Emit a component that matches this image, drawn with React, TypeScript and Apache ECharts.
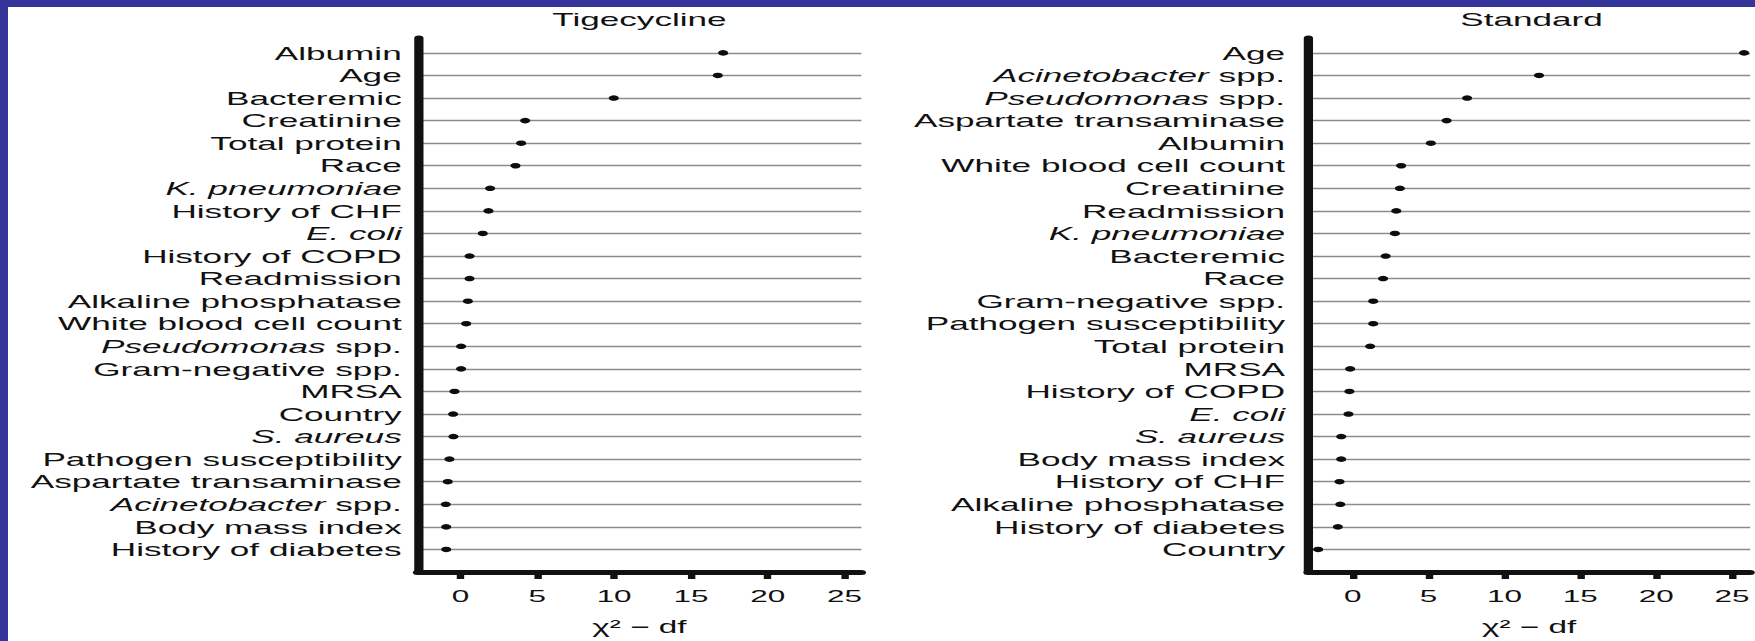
import { useEffect, useRef } from "react";
import * as echarts from "echarts";

// Tigecycline arm: factors listed top to bottom with their chi-square minus df values
const tigecyclineFactors = [
  "Albumin",
  "Age",
  "Bacteremic",
  "Creatinine",
  "Total protein",
  "Race",
  "K. pneumoniae",
  "History of CHF",
  "E. coli",
  "History of COPD",
  "Readmission",
  "Alkaline phosphatase",
  "White blood cell count",
  "Pseudomonas spp.",
  "Gram-negative spp.",
  "MRSA",
  "Country",
  "S. aureus",
  "Pathogen susceptibility",
  "Aspartate transaminase",
  "Acinetobacter spp.",
  "Body mass index",
  "History of diabetes",
];
const tigecyclineValues = [
  17.1, 16.75, 9.98, 4.21, 3.95, 3.58, 1.93, 1.82, 1.45, 0.59, 0.59, 0.48, 0.37,
  0.04, 0.04, -0.39, -0.48, -0.46, -0.72, -0.83, -0.96, -0.93, -0.93,
];

// Standard-therapy arm
const standardFactors = [
  "Age",
  "Acinetobacter spp.",
  "Pseudomonas spp.",
  "Aspartate transaminase",
  "Albumin",
  "White blood cell count",
  "Creatinine",
  "Readmission",
  "K. pneumoniae",
  "Bacteremic",
  "Race",
  "Gram-negative spp.",
  "Pathogen susceptibility",
  "Total protein",
  "MRSA",
  "History of COPD",
  "E. coli",
  "S. aureus",
  "Body mass index",
  "History of CHF",
  "Alkaline phosphatase",
  "History of diabetes",
  "Country",
];
const standardValues = [
  25.8, 12.28, 7.54, 6.19, 5.15, 3.19, 3.11, 2.87, 2.78, 2.17, 2.0, 1.35, 1.35,
  1.15, -0.17, -0.22, -0.28, -0.76, -0.76, -0.87, -0.82, -0.98, -2.28,
];

const xTickValues = [0, 5, 10, 15, 20, 25];
const panelTitles = ["Tigecycline", "Standard"];
const xAxisTitle = "χ² − df";

// Organism names set in italics
const italicTerms = ["K. pneumoniae", "E. coli", "S. aureus", "Pseudomonas", "Acinetobacter"];

const PAGE_W = 1755;
const PAGE_H = 641;
const CHART_W = 949; // drawing width before the horizontal stretch
const STRETCH = PAGE_W / CHART_W;

const FONT = "'Liberation Sans', Arial, Helvetica, sans-serif";
const INK = "#111111";
const FRAME = "#35349a";

const GRID_TOP = 38;
const GRID_BOTTOM = 66.5;

function richLabel(text: string): string {
  for (const t of italicTerms) {
    if (text.startsWith(t)) return `{i|${t}}${text.slice(t.length)}`;
  }
  return text;
}

type Panel = {
  title: string;
  factors: string[];
  values: number[];
  left: number; // px on page
  rightEdge: number; // px on page
  xMin: number;
  xMax: number;
  labelGap: number; // px on page
};

const panels: Panel[] = [
  {
    title: panelTitles[0],
    factors: tigecyclineFactors,
    values: tigecyclineValues,
    left: 417.5,
    rightEdge: 861.4,
    xMin: -2.8,
    xMax: 26.1,
    labelGap: 15.8,
  },
  {
    title: panelTitles[1],
    factors: standardFactors,
    values: standardValues,
    left: 1308,
    rightEdge: 1755,
    xMin: -2.95,
    xMax: 26.2,
    labelGap: 23,
  },
];

function buildOption(): echarts.EChartsCoreOption {
  const grids: any[] = [];
  const xAxes: any[] = [];
  const yAxes: any[] = [];
  const series: any[] = [];
  const titles: any[] = [];

  panels.forEach((p, idx) => {
    const left = p.left / STRETCH;
    const right = CHART_W - p.rightEdge / STRETCH;
    const rows = p.factors.map((_, i) => i);

    grids.push({ left, right: Math.max(0, right), top: GRID_TOP, bottom: GRID_BOTTOM });

    titles.push({
      text: p.title,
      left: (p.left + p.rightEdge) / 2 / STRETCH,
      top: 10,
      padding: 0,
      textAlign: "center",
      textStyle: { fontSize: 19, fontWeight: "normal", color: INK, fontFamily: FONT },
    });

    xAxes.push({
      type: "value",
      gridIndex: idx,
      min: p.xMin,
      max: p.xMax,
      z: 5,
      axisLine: { show: true, onZero: false, lineStyle: { color: "#111", width: 5 } },
      axisTick: {
        show: true,
        customValues: xTickValues,
        length: 7,
        lineStyle: { color: "#111", width: 4 },
      },
      axisLabel: {
        customValues: xTickValues,
        fontSize: 17,
        color: INK,
        fontFamily: FONT,
        margin: 15,
      },
      splitLine: { show: false },
      name: xAxisTitle,
      nameLocation: "middle",
      nameGap: 46,
      nameTextStyle: { fontSize: 18, color: INK, fontFamily: FONT },
    });

    yAxes.push({
      type: "value",
      gridIndex: idx,
      inverse: true,
      min: -0.66,
      max: 23,
      z: 5,
      axisLine: { show: true, onZero: false, lineStyle: { color: "#111", width: 5 } },
      axisTick: { show: false },
      splitLine: { show: false },
      axisLabel: {
        customValues: rows,
        formatter: (v: number) => richLabel(p.factors[Math.round(v)] ?? ""),
        fontSize: 19,
        color: INK,
        fontFamily: FONT,
        margin: p.labelGap / STRETCH,
        rich: {
          i: { fontStyle: "italic", fontSize: 19, color: INK, fontFamily: FONT },
        },
      },
    });

    // horizontal guide line for every factor row, kept beneath the dots
    series.push({
      type: "scatter",
      xAxisIndex: idx,
      yAxisIndex: idx,
      data: [],
      silent: true,
      z: 1,
      markLine: {
        silent: true,
        z: 1,
        symbol: ["none", "none"],
        label: { show: false },
        lineStyle: { color: "#8c8c8c", width: 1.3, type: "solid" },
        data: rows.map((i) => ({ yAxis: i })),
      },
    });

    series.push({
      type: "scatter",
      xAxisIndex: idx,
      yAxisIndex: idx,
      z: 10,
      symbol: "circle",
      symbolSize: 5.5,
      itemStyle: { color: "#0d0d0d", opacity: 1, borderWidth: 0 },
      data: p.values.map((v, i) => [v, i]),
    });
  });

  return {
    animation: false,
    backgroundColor: "#ffffff",
    title: titles,
    grid: grids,
    xAxis: xAxes,
    yAxis: yAxes,
    series,
    graphic: [
      {
        type: "rect",
        silent: true,
        shape: { x: 0, y: 0, width: CHART_W, height: 7 },
        style: { fill: FRAME },
        z: 100,
      },
      {
        type: "rect",
        silent: true,
        shape: { x: 0, y: 0, width: 8 / STRETCH, height: PAGE_H },
        style: { fill: FRAME },
        z: 100,
      },
    ],
  };
}

export default function App() {
  const ref = useRef<HTMLDivElement>(null);

  useEffect(() => {
    if (!ref.current) return;
    const chart = echarts.init(ref.current, undefined, { renderer: "svg" });
    chart.setOption(buildOption());
    return () => chart.dispose();
  }, []);

  return (
    <div
      style={{
        position: "absolute",
        left: 0,
        top: 0,
        width: PAGE_W,
        height: PAGE_H,
        overflow: "hidden",
        background: "#fff",
      }}
    >
      <div
        ref={ref}
        style={{
          width: CHART_W,
          height: PAGE_H,
          transform: `scaleX(${STRETCH})`,
          transformOrigin: "0 0",
        }}
      />
    </div>
  );
}
